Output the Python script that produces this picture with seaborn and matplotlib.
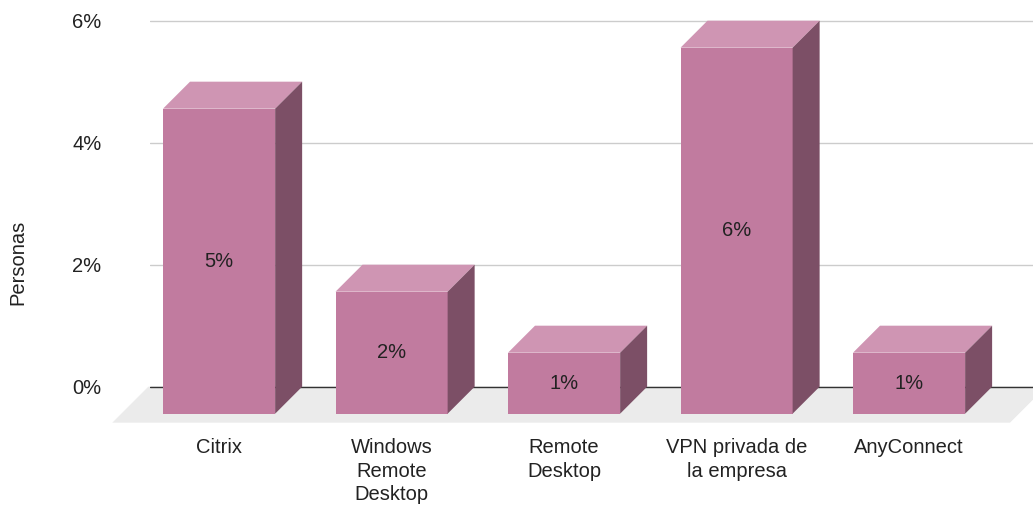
import matplotlib
matplotlib.use("Agg")
import matplotlib.pyplot as plt
import seaborn as sns
import numpy as np
import pandas as pd
from matplotlib.patches import Polygon

# data
categories = ["Citrix", "Windows\nRemote\nDesktop", "Remote\nDesktop",
              "VPN privada de\nla empresa", "AnyConnect"]
values = [5, 2, 1, 6, 1]
y_ticks = [0, 2, 4, 6]

FRONT = "#c17b9f"
TOP = "#cf95b3"
SIDE = "#7c4f66"
FLOOR = "#ebebeb"
TXT = "#222222"

sns.set_style("white")
plt.rcParams["font.family"] = ["Liberation Sans", "DejaVu Sans"]
plt.rcParams["font.size"] = 14.5

W, H = 1033, 511
fig = plt.figure(figsize=(W / 100, H / 100), dpi=100)
ax = fig.add_axes([150 / W, (H - 430) / H, (W - 150) / W, 420 / H])

df = pd.DataFrame({"tool": categories, "pct": values})
sns.barplot(data=df, x="tool", y="pct", color=FRONT, width=0.65,
            saturation=1, ax=ax, zorder=3)

ax.set_xlim(-0.557, 4.562)
ax.set_ylim(-0.71, 6.175)

# pixel depth -> data units
inv = ax.transData.inverted()
o = ax.transData.transform((0, 0))
dx, dy = inv.transform(o + np.array([27, 27])) - inv.transform(o)
fdx, fdy = inv.transform(o + np.array([36, 36])) - inv.transform(o)
ext = inv.transform(o + np.array([13, 0]))[0] - inv.transform(o)[0]

# floor slab
xl, xr = ax.get_xlim()
floor = Polygon([(xl - 0.01, 0), (xr + ext, 0), (xr + ext - fdx, -fdy), (xl - 0.01 - fdx, -fdy)],
                closed=True, facecolor=FLOOR, edgecolor="none", zorder=1, clip_on=False)
ax.add_patch(floor)
ax.axhline(0, color="#333333", lw=1, zorder=2)

# 3d faces
for p, v in zip(list(ax.patches)[:len(values)], values):
    x0, w, h = p.get_x(), p.get_width(), p.get_height()
    p.set_x(x0 - dx)
    p.set_y(-dy)
    p.set_edgecolor("none")
    top = Polygon([(x0 - dx, h - dy), (x0 + w - dx, h - dy), (x0 + w, h), (x0, h)],
                  closed=True, facecolor=TOP, edgecolor="none", zorder=3)
    side = Polygon([(x0 + w - dx, -dy), (x0 + w, 0), (x0 + w, h), (x0 + w - dx, h - dy)],
                   closed=True, facecolor=SIDE, edgecolor="none", zorder=3)
    ax.add_patch(top)
    ax.add_patch(side)
    ax.text(x0 - dx + w / 2, h / 2 - dy, f"{v}%", ha="center", va="center",
            color=TXT, fontsize=14.5, zorder=5)

ax.yaxis.grid(True, color="#cccccc", lw=1, zorder=0)
ax.set_axisbelow(True)
sns.despine(ax=ax, left=True, bottom=True)

ax.set_yticks(y_ticks, [f"{t}%" for t in y_ticks])
ax.set_xticks(np.arange(len(categories)) - dx, categories)
for lbl in ax.get_xticklabels():
    lbl.set_linespacing(1.3)
ax.tick_params(axis="y", length=0, pad=35, colors=TXT)
ax.tick_params(axis="x", length=0, pad=6, colors=TXT)
ax.set_xlabel("")
ax.set_ylabel("")

fig.text(18 / W, 1 - 262 / H, "Personas", rotation=90, ha="center", va="center",
         color=TXT, fontsize=14.5)

fig.savefig("out.png", dpi=100)
